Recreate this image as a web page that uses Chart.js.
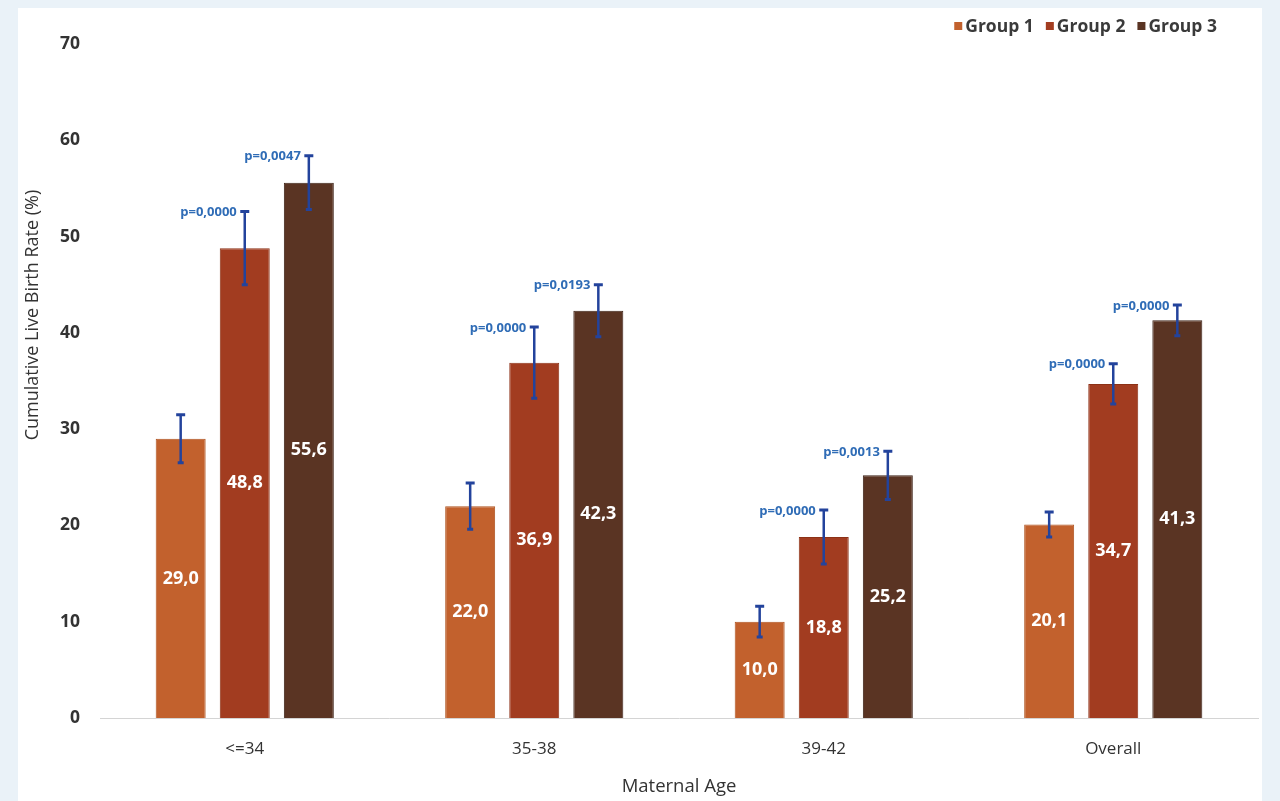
<!DOCTYPE html>
<html>
<head>
<meta charset="utf-8">
<title>Cumulative Live Birth Rate by Maternal Age</title>
<script src="https://cdn.jsdelivr.net/npm/chart.js@4.4.1/dist/chart.umd.min.js"></script>
<style>
  html, body { margin: 0; padding: 0; background: #e8f1f7; }
  #wrap { position: relative; width: 1280px; height: 801px; }
</style>
</head>
<body>
<div id="wrap"><canvas id="chart"></canvas></div>
<script>
// Age categories and series
const categories = ['<=34', '35-38', '39-42', 'Overall'];
const seriesNames = ['Group 1', 'Group 2', 'Group 3'];
const group1 = [29.0, 22.0, 10.0, 20.1];
const group2 = [48.8, 36.9, 18.8, 34.7];
const group3 = [55.6, 42.3, 25.2, 41.3];
// Half-widths of the error bars
const group1Err = [2.5, 2.4, 1.6, 1.3];
const group2Err = [3.8, 3.7, 2.8, 2.1];
const group3Err = [2.8, 2.7, 2.5, 1.6];
// p-values printed beside groups 2 and 3
const group2P = ['p=0,0000', 'p=0,0000', 'p=0,0000', 'p=0,0000'];
const group3P = ['p=0,0047', 'p=0,0193', 'p=0,0013', 'p=0,0000'];
const yTicks = [0, 10, 20, 30, 40, 50, 60, 70];

const colors = ['#c2612d', '#a23c20', '#5a3423'];
const borders = ['#ae531f', '#8c3116', '#3d2217'];
const errColor = '#23439c';
const pColor = '#2f6cb6';

const errors = [group1Err, group2Err, group3Err];
const pLabels = [null, group2P, group3P];

const fmt = v => v.toFixed(1).replace('.', ',');

// page backdrop: pale blue margins around a white sheet
const sheet = {
  id: 'sheet',
  beforeDraw(chart) {
    const c = chart.ctx;
    c.save();
    c.fillStyle = '#eaf2f8';
    c.fillRect(0, 0, chart.width, chart.height);
    c.fillStyle = '#ffffff';
    c.fillRect(18, 8, 1244, chart.height - 8);
    c.restore();
  }
};

// error bars, p-values and value labels on the bars
const annotate = {
  id: 'annotate',
  afterDatasetsDraw(chart) {
    const c = chart.ctx;
    const y = chart.scales.y;
    c.save();
    chart.data.datasets.forEach((ds, di) => {
      const meta = chart.getDatasetMeta(di);
      meta.data.forEach((bar, i) => {
        const v = ds.data[i];
        const e = errors[di][i];
        const yt = y.getPixelForValue(v + e);
        const yb = y.getPixelForValue(v - e);
        const x = bar.x;
        // value label in the middle of the bar
        c.fillStyle = '#ffffff';
        c.font = 'bold 18px "Open Sans"';
        c.textAlign = 'center';
        c.textBaseline = 'middle';
        c.fillText(fmt(v), x, (bar.y + bar.base) / 2);
        // error bar
        c.strokeStyle = errColor;
        c.lineWidth = 2.5;
        c.beginPath();
        c.moveTo(x, yt); c.lineTo(x, yb);
        c.stroke();
        c.lineWidth = 3;
        c.beginPath();
        c.moveTo(x - 4.5, yt); c.lineTo(x + 4.5, yt);
        c.moveTo(x - 3, yb); c.lineTo(x + 3, yb);
        c.stroke();
        // p-value
        if (pLabels[di]) {
          c.fillStyle = pColor;
          c.font = 'bold 13px "Open Sans"';
          c.textAlign = 'right';
          c.textBaseline = 'middle';
          c.fillText(pLabels[di][i], x - 8, yt + 1);
        }
      });
    });
    // y axis title
    c.save();
    c.translate(33, 315);
    c.rotate(-Math.PI / 2);
    c.fillStyle = '#333333';
    c.font = '18px "Open Sans"';
    c.textAlign = 'center';
    c.textBaseline = 'middle';
    c.fillText('Cumulative Live Birth Rate (%)', 0, 0);
    c.restore();
    // legend
    c.font = 'bold 17.5px "Open Sans"';
    c.textBaseline = 'middle';
    c.textAlign = 'left';
    const items = chart.data.datasets.map(d => ({ text: d.label, color: d.backgroundColor }));
    const widths = items.map(it => c.measureText(it.text).width);
    const gapBox = 11, gapItem = 12;
    const total = widths.reduce((a, w) => a + w + gapBox, 0) + (items.length - 1) * gapItem;
    let lx = 1217 - total;
    items.forEach((it, k) => {
      c.fillStyle = it.color;
      c.fillRect(lx, 22, 8, 8);
      c.fillStyle = '#3a3a3a';
      c.fillText(it.text, lx + gapBox, 27);
      lx += gapBox + widths[k] + gapItem;
    });
    c.restore();
  }
};

const datasets = [group1, group2, group3].map((d, k) => ({
  label: seriesNames[k],
  data: d,
  backgroundColor: colors[k],
  borderColor: borders[k],
  borderWidth: 1,
  categoryPercentage: 0.664,
  barPercentage: 0.78
}));

new Chart(document.getElementById('chart'), {
  type: 'bar',
  data: { labels: categories, datasets },
  options: {
    responsive: true,
    maintainAspectRatio: false,
    animation: false,
    devicePixelRatio: 1,
    layout: { padding: { left: 18, top: 44, right: 22, bottom: 0 } },
    plugins: { legend: { display: false }, tooltip: { enabled: false } },
    scales: {
      x: {
        grid: { display: false, drawTicks: false },
        border: { display: true, color: '#d4d4d4', width: 1 },
        ticks: { color: '#333333', font: { family: 'Open Sans', size: 17 }, padding: 21 },
        title: { display: true, text: 'Maternal Age', color: '#333333',
                 font: { family: 'Open Sans', size: 18.5 }, padding: { top: 0, bottom: 3 } },
        afterFit(s) { s.height = 83; }
      },
      y: {
        min: 0, max: 70,
        afterBuildTicks(s) { s.ticks = yTicks.map(v => ({ value: v })); },
        grid: { display: false, drawTicks: false },
        border: { display: false },
        ticks: { color: '#333333', font: { family: 'Open Sans', size: 17.5, weight: 'bold' }, padding: 20 },
        afterFit(s) { s.width = 82; }
      }
    }
  },
  plugins: [sheet, annotate]
});
</script>
</body>
</html>
